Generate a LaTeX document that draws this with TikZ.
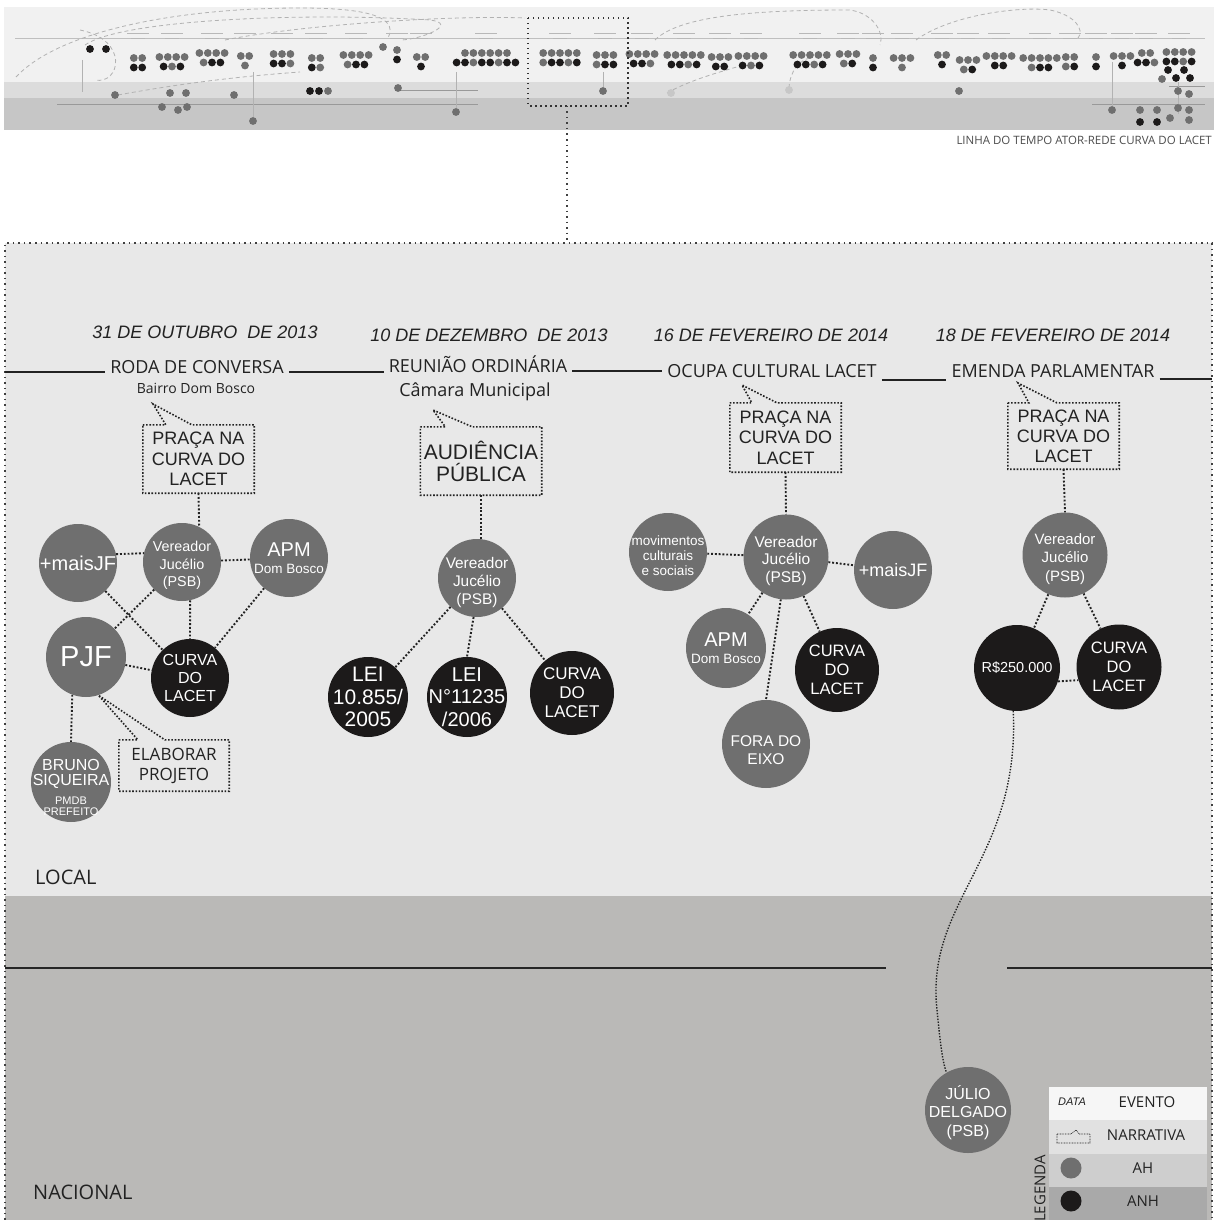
\documentclass[tikz,border=0pt]{standalone}
\usepackage{fontspec}
\setmainfont{Liberation Sans}
\newfontfamily\hum{Open Sans}
\usetikzlibrary{calc}
\definecolor{ahc}{HTML}{6F6F6F}
\definecolor{anhc}{HTML}{1C1A1A}
\definecolor{localc}{HTML}{E8E8E8}
\definecolor{nacc}{HTML}{BAB9B7}
\definecolor{ink}{HTML}{222222}
\definecolor{thA}{HTML}{F1F1F1}
\definecolor{thB}{HTML}{DCDCDC}
\definecolor{thC}{HTML}{C6C6C6}
\definecolor{lgA}{HTML}{F6F6F6}
\definecolor{lgB}{HTML}{E1E1E1}
\definecolor{lgC}{HTML}{CECECE}
\definecolor{lgD}{HTML}{A9A9A9}
\newcommand\fsz[2]{\fontsize{#1}{#2}\selectfont}
\begin{document}
\begin{tikzpicture}[x=1pt,y=-1pt,
  ah/.style={circle, fill=ahc, inner sep=0pt, minimum size=#1pt},
  anh/.style={circle, fill=anhc, inner sep=0pt, minimum size=#1pt},
  ct/.style={text=white, align=center, inner sep=0pt},
  lnk/.style={draw=ink, line width=1.9pt, dash pattern=on 1.9pt off 1.9pt},
  lnkthin/.style={draw=ink, line width=1.4pt, dash pattern=on 1.4pt off 1.5pt},
  narr/.style={draw=ink, line width=1.6pt, dash pattern=on 1.6pt off 1.7pt},
  nbox/.style={inner sep=0pt, align=center, text=ink},
  ttl/.style={font=\hum\fsz{18}{21}, text=ink, inner xsep=5pt, inner ysep=0pt, anchor=base},
  dte/.style={font=\itshape\fsz{18}{21}, text=ink},
  tline/.style={draw=ink, line width=1.6pt},
  framebox/.style={draw=black!75, line width=1.2pt, dash pattern=on 1.5pt off 4pt},
  thumbdot/.style={draw=black!80, line width=1.3pt, dash pattern=on 1.5pt off 3.5pt},
  thumbarc/.style={draw=black!30, line width=0.8pt, dash pattern=on 4pt off 3pt},
  lgtxt/.style={font=\hum\fsz{15}{16}, text=ink, inner sep=0pt}
]
\useasboundingbox (0,0) rectangle (1214,1220);

% ---------------- thumbnail strip ----------------
\fill[thA] (4,7) rectangle (1214,82);
\fill[thB] (4,82) rectangle (1214,98);
\fill[thC] (4,98) rectangle (1214,130);
\draw[black!25, line width=0.6pt] (15,38) -- (1205,38);
\draw[black!40, line width=0.7pt] (57,104) -- (478,104) (1092,104) -- (1205,104) (395,90) -- (478,90) (1169,86) -- (1205,86);
\draw[black!30, line width=0.6pt] (456,72) -- (456,108) (253,72) -- (253,117) (603,72) -- (603,87) (1112,62) -- (1112,106) (1178,82) -- (1178,114) (82,60) -- (82,92);
\draw[thumbarc] (16,77) .. controls (60,30) and (180,8) .. (300,8) .. controls (360,8) and (400,15) .. (388,38);
\draw[thumbarc] (85,45) .. controls (120,20) and (300,12) .. (430,20) .. controls (460,24) and (420,40) .. (400,40);
\draw[thumbarc] (225,40) .. controls (300,25) and (450,15) .. (525,18);
\draw[thumbarc] (655,40) .. controls (680,15) and (760,10) .. (849,10) .. controls (870,12) and (885,30) .. (880,45);
\draw[thumbarc] (916,40) .. controls (950,15) and (1020,6) .. (1050,10) .. controls (1075,15) and (1085,30) .. (1078,38);
\draw[thumbarc] (118,95) .. controls (200,80) and (260,75) .. (300,72);
\draw[thumbarc] (667,93) .. controls (690,80) and (720,72) .. (740,66);
\draw[thumbarc] (789,88) .. controls (790,70) and (800,60) .. (810,58);
\draw[thumbarc] (80,30) .. controls (130,40) and (120,85) .. (95,80);
\foreach \cx/\ya/\na/\nb in {138/58/2/2,172/57/4/3,212/53/4/3,245/56/2/1,282/54/3/3,316/58/2/2,356/55/4/3,397/50/1/1,421/57/2/1,486/53/6/8,560/53/5/5,605/55/3/3,642/54/4/3,684/55/5/4,720/57/3/2,751/56/4/3,810/55/5/4,848/54/3/2,873/58/1/1,902/58/3/1,942/55/2/1,968/60/3/2,999/56/4/2,1040/58/5/3,1070/57/2/2,1096/57/1/1,1122/56/3/1,1146/53/2/3,1179/52/4/4}{
  \draw[black!28, line width=1pt] ({\cx-11},34) -- ({\cx+11},34) ({\cx-7},39) -- ({\cx+7},39);
  \foreach \i in {1,...,\na}{\fill[ahc] ({\cx+(\i-(\na+1)/2)*8.4},\ya) circle (3.9);}
  \foreach \i in {1,...,\nb}{
    \pgfmathtruncatemacro\m{mod(\i+\cx,3)}
    \ifnum\m=0 \def\cc{ahc}\else\def\cc{anhc}\fi
    \fill[\cc] ({\cx+(\i-(\nb+1)/2)*8.4},{\ya+9.5}) circle (3.9);}
}
\foreach \px/\py/\pc in {90/49/anhc,106/49/anhc,383/47/ahc,1168/70/anhc,1184/70/anhc,1176/78/anhc,1190/78/anhc,1162/79/ahc,
  115/95/ahc,170/93/ahc,186/93/ahc,234/95/ahc,310/91/anhc,319/91/anhc,328/91/ahc,398/88/ahc,603/91/ahc,959/91/ahc,1178/91/ahc,1189/94/ahc,
  162/107/ahc,178/110/ahc,187/107/ahc,253/121/ahc,456/112/ahc,1112/110/ahc,1140/110/ahc,1157/110/ahc,1140/122/anhc,1157/122/anhc,1170/118/ahc,1178/108/ahc,1189/110/ahc,1189/120/ahc}{
  \fill[\pc] (\px,\py) circle (3.9);
}
\fill[black!22] (671,93) circle (3.9) (789,90) circle (3.9);
\draw[thumbdot] (528,18) rectangle (628,106);
\node[font=\hum\fsz{11.5}{13}, text=black!70, anchor=east, inner sep=0pt] (cap) at (1212,140) {LINHA DO TEMPO ATOR-REDE CURVA DO LACET};

% ---------------- main panel ----------------
\fill[localc] (5,243) rectangle (1212,896);
\fill[nacc] (5,896) rectangle (1212,1220);
\draw[framebox] (5,1225) -- (5,243) -- (1212,243) -- (1212,1225);
\coordinate (zb) at (567,106);
\coordinate (zt) at (567,243);
\draw[framebox] (zb) -- (zt);
\coordinate (nl0) at (5,968); \coordinate (nl1) at (886,968);
\coordinate (nl2) at (1007,968); \coordinate (nl3) at (1212,968);
\draw[draw=black!85, line width=2pt] (nl0) -- (nl1) (nl2) -- (nl3);
\node[font=\hum\fsz{20}{22}, text=ink, anchor=west, inner sep=0pt] (loc) at (35,877) {LOCAL};
\node[font=\hum\fsz{20}{22}, text=ink, anchor=west, inner sep=0pt] (nac) at (33,1192) {NACIONAL};

% dates and events
\node[dte] (d1) at (205,332) {31 DE OUTUBRO\ \ DE 2013};
\node[dte] (d2) at (489,335) {10 DE DEZEMBRO\ \ DE 2013};
\node[dte] (d3) at (771,335) {16 DE FEVEREIRO DE 2014};
\node[dte] (d4) at (1053,335) {18 DE FEVEREIRO DE 2014};
\node[ttl] (e1) at (197,373) {RODA DE CONVERSA};
\node[ttl] (e2) at (478,372) {REUNIÃO ORDINÁRIA};
\node[ttl] (e3) at (772,377) {OCUPA CULTURAL LACET};
\node[ttl] (e4) at (1053,377) {EMENDA PARLAMENTAR};
\node[font=\hum\fsz{14}{16}, text=ink] (s1) at (196,388) {Bairro Dom Bosco};
\node[font=\hum\fsz{18}{21}, text=ink] (s2) at (475,392) {Câmara Municipal};
\coordinate (tl0) at (5,372);
\coordinate (tl5) at (1212,375);
\draw[tline] (tl0) -- (tl0 -| e1.base west);
\draw[tline] ([yshift=1pt]e1.base east) -- ([yshift=1pt]e1.base east -| e2.base west);
\draw[tline] ([yshift=1pt]e2.base east) -- ([yshift=1pt]e2.base east -| e3.base west);
\draw[tline] ([yshift=-3pt]e3.base east) -- ([yshift=-3pt]e3.base east -| e4.base west);
\draw[tline] ([yshift=-2pt]e4.base east) -- ([yshift=-2pt]e4.base east -| tl5);

% narrative boxes
\node[nbox, font=\fsz{18}{20.5}, minimum width=111pt, minimum height=68pt] (b1) at (198.5,459) {PRAÇA NA\\CURVA DO\\LACET};
\node[nbox, font=\fsz{21}{22}, minimum width=121pt, minimum height=68pt] (b2) at (481,461) {AUDIÊNCIA\\PÚBLICA};
\node[nbox, font=\fsz{18}{20.5}, minimum width=111pt, minimum height=69pt] (b3) at (785.5,437.5) {PRAÇA NA\\CURVA DO\\LACET};
\node[nbox, font=\fsz{18}{20}, minimum width=111pt, minimum height=66pt] (b4) at (1063.5,436) {PRAÇA NA\\CURVA DO\\LACET};
\node[nbox, font=\hum\fsz{17}{20}, minimum width=110pt, minimum height=51pt] (b5) at (174,765.5) {ELABORAR\\PROJETO};
\coordinate (t1) at (153,404);
\coordinate (t2) at (433,410);
\coordinate (t3) at (742,385);
\coordinate (t4) at (1018,383);

% event 1 actors
\node[ah=78, label={[ct, font=\fsz{20}{22}]center:+maisJF}] (m1) at (78,563) {};
\node[ah=78, label={[ct, yshift=-3.5pt, font=\fsz{14.3}{17.5}]center:{Vereador\\Jucélio\\(PSB)}}] (v1) at (182,562) {};
\node[ah=78, label={[ct, font=\fsz{20}{20}]center:{APM\\[-3pt]\fsz{13.5}{14}Dom Bosco}}] (a1) at (289,558) {};
\node[ah=80, label={[ct, font=\fsz{29}{30}]center:PJF}] (p1) at (86,657) {};
\node[anh=78, label={[ct, font=\fsz{16}{18}]center:{CURVA\\DO\\LACET}}] (c1) at (190,678) {};
\node[ah=80, label={[ct, yshift=-5pt, font=\fsz{16}{15.5}]center:{BRUNO\\SIQUEIRA\\[3pt]\fsz{11}{11}PMDB\\[-4.5pt]\fsz{11}{11}PREFEITO}}] (bs) at (71,782) {};

% event 2 actors
\node[ah=78, label={[ct, yshift=-5pt, font=\fsz{15.4}{18}]center:{Vereador\\Jucélio\\(PSB)}}] (v2) at (477,578) {};
\node[anh=80, label={[ct, font=\fsz{21}{22.5}]center:{LEI\\10.855/\\2005}}] (l1) at (368,697) {};
\node[anh=80, label={[ct, font=\fsz{20}{22.5}]center:{LEI\\N°11235\\/2006}}] (l2) at (467,697) {};
\node[anh=84, label={[ct, font=\fsz{17}{19}]center:{CURVA\\DO\\LACET}}] (c2) at (572,693) {};

% event 3 actors
\node[ah=85, label={[ct, yshift=-3.5pt, font=\fsz{15.5}{17.5}]center:{Vereador\\Jucélio\\(PSB)}}] (v3) at (786,557) {};
\node[ah=78, label={[ct, yshift=-4pt, font=\fsz{13.5}{15}]center:{movimentos\\culturais\\e sociais}}] (mv) at (668,552) {};
\node[ah=78, label={[ct, font=\fsz{18}{20}]center:+maisJF}] (m3) at (893,570) {};
\node[ah=80, label={[ct, font=\fsz{20}{20}]center:{APM\\[-3pt]\fsz{13.5}{14}Dom Bosco}}] (a3) at (726,648) {};
\node[anh=84, label={[ct, font=\fsz{16.5}{19}]center:{CURVA\\DO\\LACET}}] (c3) at (837,670) {};
\node[ah=88, label={[ct, yshift=-6pt, font=\fsz{15.5}{17.5}]center:{FORA DO\\EIXO}}] (fx) at (766,744) {};

% event 4 actors
\node[ah=85, label={[ct, yshift=-4pt, font=\fsz{15}{18.5}]center:{Vereador\\Jucélio\\(PSB)}}] (v4) at (1065,555) {};
\node[anh=86, label={[ct, font=\fsz{14.5}{17}]center:R\$250.000}] (rs) at (1017,668) {};
\node[anh=85, label={[ct, font=\fsz{16.5}{19}]center:{CURVA\\DO\\LACET}}] (c4) at (1119,667) {};
\node[ah=86, label={[ct, yshift=-2.5pt, font=\fsz{16}{18.5}]center:{JÚLIO\\DELGADO\\(PSB)}}] (ju) at (968,1110) {};

% narrative outlines
\draw[narr] (b1.north west) -- ([xshift=23pt]b1.north west) -- (t1) -- ([xshift=49pt]b1.north west) -- (b1.north east) -- (b1.south east) -- (b1.south west) -- cycle;
\draw[narr] (b2.north west) -- ([xshift=25pt]b2.north west) -- (t2) -- ([xshift=52pt]b2.north west) -- (b2.north east) -- (b2.south east) -- (b2.south west) -- cycle;
\draw[narr] (b3.north west) -- ([xshift=22pt]b3.north west) -- (t3) -- ([xshift=47pt]b3.north west) -- (b3.north east) -- (b3.south east) -- (b3.south west) -- cycle;
\draw[narr] (b4.north west) -- ([xshift=21pt]b4.north west) -- (t4) -- ([xshift=49pt]b4.north west) -- (b4.north east) -- (b4.south east) -- (b4.south west) -- cycle;
\draw[narr] (b5.north west) -- ([xshift=19pt]b5.north west) -- (p1.-72) -- ([xshift=46pt]b5.north west) -- (b5.north east) -- (b5.south east) -- (b5.south west) -- cycle;

% links
\draw[lnk] (b1.south) -- (v1.64);
\draw[lnk] (m1.13) -- (v1.167);
\draw[lnk] (v1) -- (a1);
\draw[lnk] (m1) -- (c1);
\draw[lnk] (v1) -- (p1);
\draw[lnk] (v1.-78) -- (c1.north);
\draw[lnk] (a1) -- (c1);
\draw[lnk] (p1) -- (c1);
\draw[lnk] (p1.-110) -- (bs.north);

\draw[lnk] (b2.south) -- (b2.south |- v2.north);
\draw[lnk] (v2) -- (l1);
\draw[lnk] (v2.-95) -- (l2.north);
\draw[lnk] (v2) -- (c2);

\draw[lnk] (b3.south) -- (v3.north);
\draw[lnk] (v3) -- (mv);
\draw[lnk] (v3) -- (m3);
\draw[lnk] (v3) -- (a3);
\draw[lnk] (v3.-97) -- (fx.north);
\draw[lnk] (v3) -- (c3);

\draw[lnk] (b4.south) -- (v4.north);
\draw[lnk] (v4) -- (rs);
\draw[lnk] (v4) -- (c4);
\draw[lnk] (rs.-18) -- (c4.-162);
\draw[lnkthin] (rs.-95) .. controls (1020,860) and (925,900) .. (937,1010) .. controls (940,1040) and (942,1060) .. (ju.120);

% legend
\fill[lgA] (1049,1087) rectangle (1207,1120);
\fill[lgB] (1049,1120) rectangle (1207,1154);
\fill[lgC] (1049,1154) rectangle (1207,1187);
\fill[lgD] (1049,1187) rectangle (1207,1220);
\node[font=\itshape\fsz{11}{12}, text=ink, inner sep=0pt] (lgd) at (1072,1102) {DATA};
\node[lgtxt] (lge) at (1147,1102) {EVENTO};
\coordinate (lgi) at (1057,1134);
\draw[draw=ink, line width=0.7pt, dash pattern=on 0.8pt off 0.8pt] (lgi) -- ++(14,0) -- ++(5,-4) -- ++(3,4) -- ++(11,0) -- ++(0,9) -- ++(-33,0) -- cycle;
\node[lgtxt] (lgn) at (1146,1135) {NARRATIVA};
\node[ah=21] (lga) at (1071,1168) {};
\node[lgtxt] (lgah) at (1143,1168) {AH};
\node[anh=21] (lgb) at (1071,1201) {};
\node[lgtxt] (lganh) at (1143,1201) {ANH};
\node[lgtxt, rotate=90, anchor=west] (lgt) at (1040,1222) {LEGENDA};
\end{tikzpicture}
\end{document}
